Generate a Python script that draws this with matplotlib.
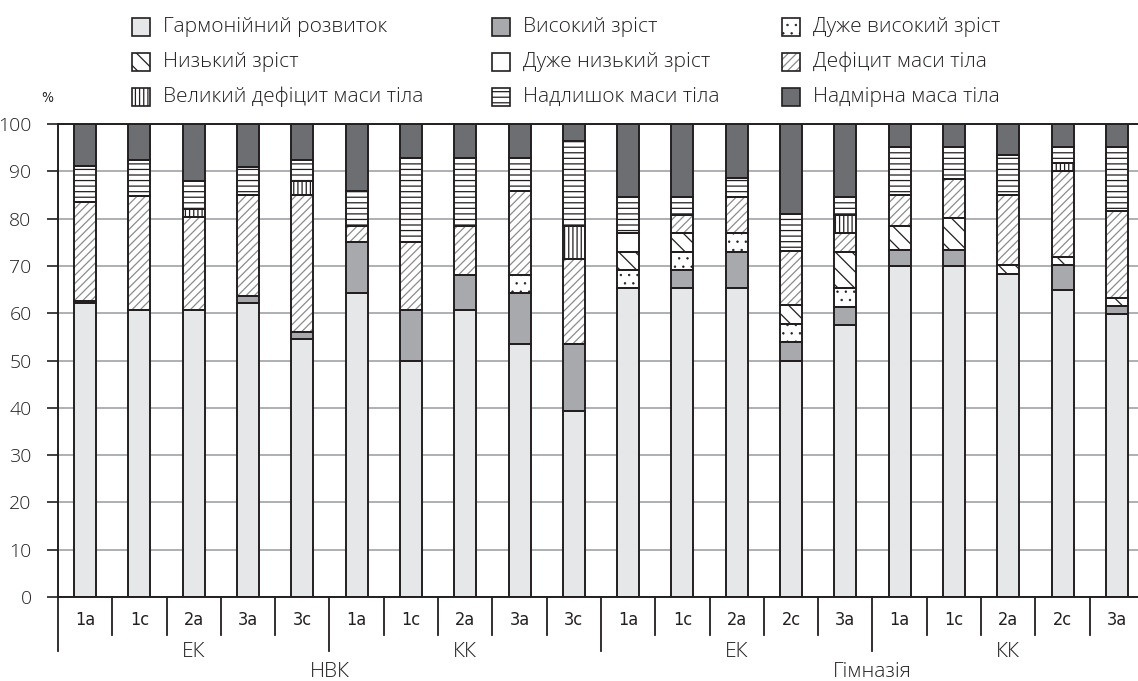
import matplotlib
matplotlib.use('Agg')
import matplotlib.pyplot as plt
from matplotlib.patches import Rectangle

# ---------------- data ----------------
categories = ['1а', '1с', '2а', '3а', '3с', '1а', '1с', '2а', '3а', '3с',
              '1а', '1с', '2а', '2с', '3а', '1а', '1с', '2а', '2с', '3а']
groups = ['ЕК', 'КК', 'ЕК', 'КК']
schools = ['НВК', 'Гімназія']

harmonious = [62.2, 60.7, 60.7, 62.1, 54.5, 64.3, 50.0, 60.7, 53.5, 39.3,
              65.3, 65.3, 65.3, 50.0, 57.6, 70.0, 70.0, 68.3, 64.9, 59.9]
high = [0.4, 0, 0, 1.6, 1.6, 10.7, 10.7, 7.3, 10.8, 14.2,
        0, 3.9, 7.7, 3.9, 3.8, 3.4, 3.4, 0, 5.2, 1.7]
very_high = [0, 0, 0, 0, 0, 0, 0, 0, 3.7, 0,
             3.9, 3.8, 3.9, 3.9, 3.9, 0, 0, 0, 0, 0]
low = [0, 0, 0, 0, 0, 0, 0, 0, 0, 0,
       3.8, 3.9, 0, 3.9, 7.7, 5.1, 6.8, 1.8, 1.7, 1.7]
very_low = [0, 0, 0, 0, 0, 0, 0, 0, 0, 0,
            3.9, 0, 0, 0, 0, 0, 0, 0, 0, 0]
deficit = [20.9, 24.1, 19.6, 21.2, 28.8, 3.5, 14.3, 10.5, 17.9, 18.0,
           0, 3.9, 7.7, 11.4, 3.9, 6.5, 8.2, 14.9, 18.3, 18.4]
great_deficit = [0, 0, 1.7, 0, 3.1, 0, 0, 0, 0, 7.0,
                 0, 0, 0, 0, 3.9, 0, 0, 0, 1.6, 0]
excess = [7.6, 7.6, 6.0, 6.1, 4.4, 7.4, 17.9, 14.4, 7.0, 18.0,
          7.7, 3.8, 3.9, 7.8, 3.8, 10.1, 6.7, 8.5, 3.4, 13.4]
obese = [9.0, 7.6, 12.0, 9.0, 7.6, 14.1, 7.1, 7.1, 7.1, 3.5,
         15.4, 15.4, 11.5, 19.2, 15.4, 4.9, 4.9, 6.5, 4.9, 4.9]

labels = ['Гармонійний розвиток', 'Високий зріст', 'Дуже високий зріст',
          'Низький зріст', 'Дуже низький зріст', 'Дефіцит маси тіла',
          'Великий дефіцит маси тіла', 'Надлишок маси тіла', 'Надмірна маса тіла']
yticks = [0, 10, 20, 30, 40, 50, 60, 70, 80, 90, 100]

# ---------------- styles ----------------
series = [harmonious, high, very_high, low, very_low, deficit, great_deficit, excess, obese]
faces = ['#e6e7e8', '#a7a9ac', 'white', 'white', 'white', 'white', 'white', 'white', '#6d6e71']
hatches = [None, None, '..', '\\\\', None, '////', '||||', '---', None]
hcolors = ['#e6e7e8', '#a7a9ac', '#231f20', '#231f20', 'white', '#8a8b8e', '#231f20', '#231f20', '#6d6e71']
hlw = [0.9, 0.9, 0.5, 0.9, 0.9, 0.9, 0.9, 0.9, 0.9]
EDGE = '#231f20'

SANS = ['Open Sans', 'DejaVu Sans']
NARROW = ['Liberation Sans Narrow', 'DejaVu Sans']

W, H = 1138, 681
fig = plt.figure(figsize=(W / 100, H / 100), dpi=100)
ax = fig.add_axes([58 / W, (H - 597) / H, (W - 58) / W, (597 - 124) / H])

x = list(range(len(categories)))
bw = 0.405
bottom = [0.0] * len(x)
for vals, fc, hc, ht, lw in zip(series, faces, hcolors, hatches, hlw):
    xs = [xi for xi, v in zip(x, vals) if v > 0]
    vs = [v for v in vals if v > 0]
    bs = [b for b, v in zip(bottom, vals) if v > 0]
    with plt.rc_context({'hatch.linewidth': lw}):
        ax.bar(xs, vs, bottom=bs, width=bw, color=fc, edgecolor=hc, linewidth=0,
               hatch=ht, zorder=2)
    ax.bar(xs, vs, bottom=bs, width=bw, fill=False, edgecolor=EDGE,
           linewidth=1.4, zorder=3)
    bottom = [b + v for b, v in zip(bottom, vals)]

ax.set_xlim(-0.5, 19.39)
ax.set_ylim(0, 100)
ax.set_yticks(yticks)
ax.set_yticklabels([str(t) for t in yticks], family=SANS, fontsize=14,
                   fontweight='light', color='#231f20')
ax.tick_params(axis='y', length=8, width=1.2, color=EDGE, pad=11)
ax.yaxis.grid(True, color='#a7a9ac', linewidth=1.3)
ax.set_axisbelow(True)

ax.set_xticks(x)
ax.set_xticklabels(categories, family=NARROW, fontsize=13, fontstretch='condensed',
                   fontweight='light', color='#231f20')
ax.tick_params(axis='x', length=0, pad=10)

for s in ['left', 'bottom', 'top']:
    ax.spines[s].set_color(EDGE)
    ax.spines[s].set_linewidth(1.4)
ax.spines['right'].set_visible(False)

# separators below the axis
tr = ax.get_xaxis_transform()
for i in range(20):
    xp = i - 0.5
    long = (i % 5 == 0)
    yend = -0.115 if long else -0.08
    ax.plot([xp, xp], [0, yend], color=EDGE, lw=1.3, transform=tr, clip_on=False)

for gi, g in enumerate(groups):
    ax.text(gi * 5 + 2, -0.116, g, transform=tr, ha='center', va='center',
            family=SANS, fontsize=15, fontweight='light', color='#231f20')
for si, s in enumerate(schools):
    ax.text(si * 10 + 4.5, -0.159, s, transform=tr, ha='center', va='center',
            family=SANS, fontsize=15, fontweight='light', color='#231f20')

fig.text(47 / W, 1 - 98 / H, '%', ha='center', va='center', family=NARROW,
         fontsize=10, fontstretch='condensed', color='#231f20')

# legend (3 x 3, row-major)
sq = 18
col_sq = [132, 492, 782]
col_tx = [163, 523, 813]
row_y = [27, 62, 97]
for k, lab in enumerate(labels):
    r, c = divmod(k, 3)
    x0 = col_sq[c] / W
    y0 = 1 - (row_y[r] + sq / 2) / H
    with plt.rc_context({'hatch.linewidth': hlw[k]}):
        fig.patches.append(Rectangle((x0, y0), sq / W, sq / H, transform=fig.transFigure,
                                     facecolor=faces[k], edgecolor=hcolors[k], linewidth=0,
                                     hatch=hatches[k], figure=fig))
    fig.patches.append(Rectangle((x0, y0), sq / W, sq / H, transform=fig.transFigure,
                                 fill=False, edgecolor=EDGE, linewidth=1.2, figure=fig))
    fig.text(col_tx[c] / W, 1 - row_y[r] / H, lab, ha='left', va='center',
             family=SANS, fontsize=15, fontweight='light', color='#231f20')

fig.savefig('out.png', dpi=100)
